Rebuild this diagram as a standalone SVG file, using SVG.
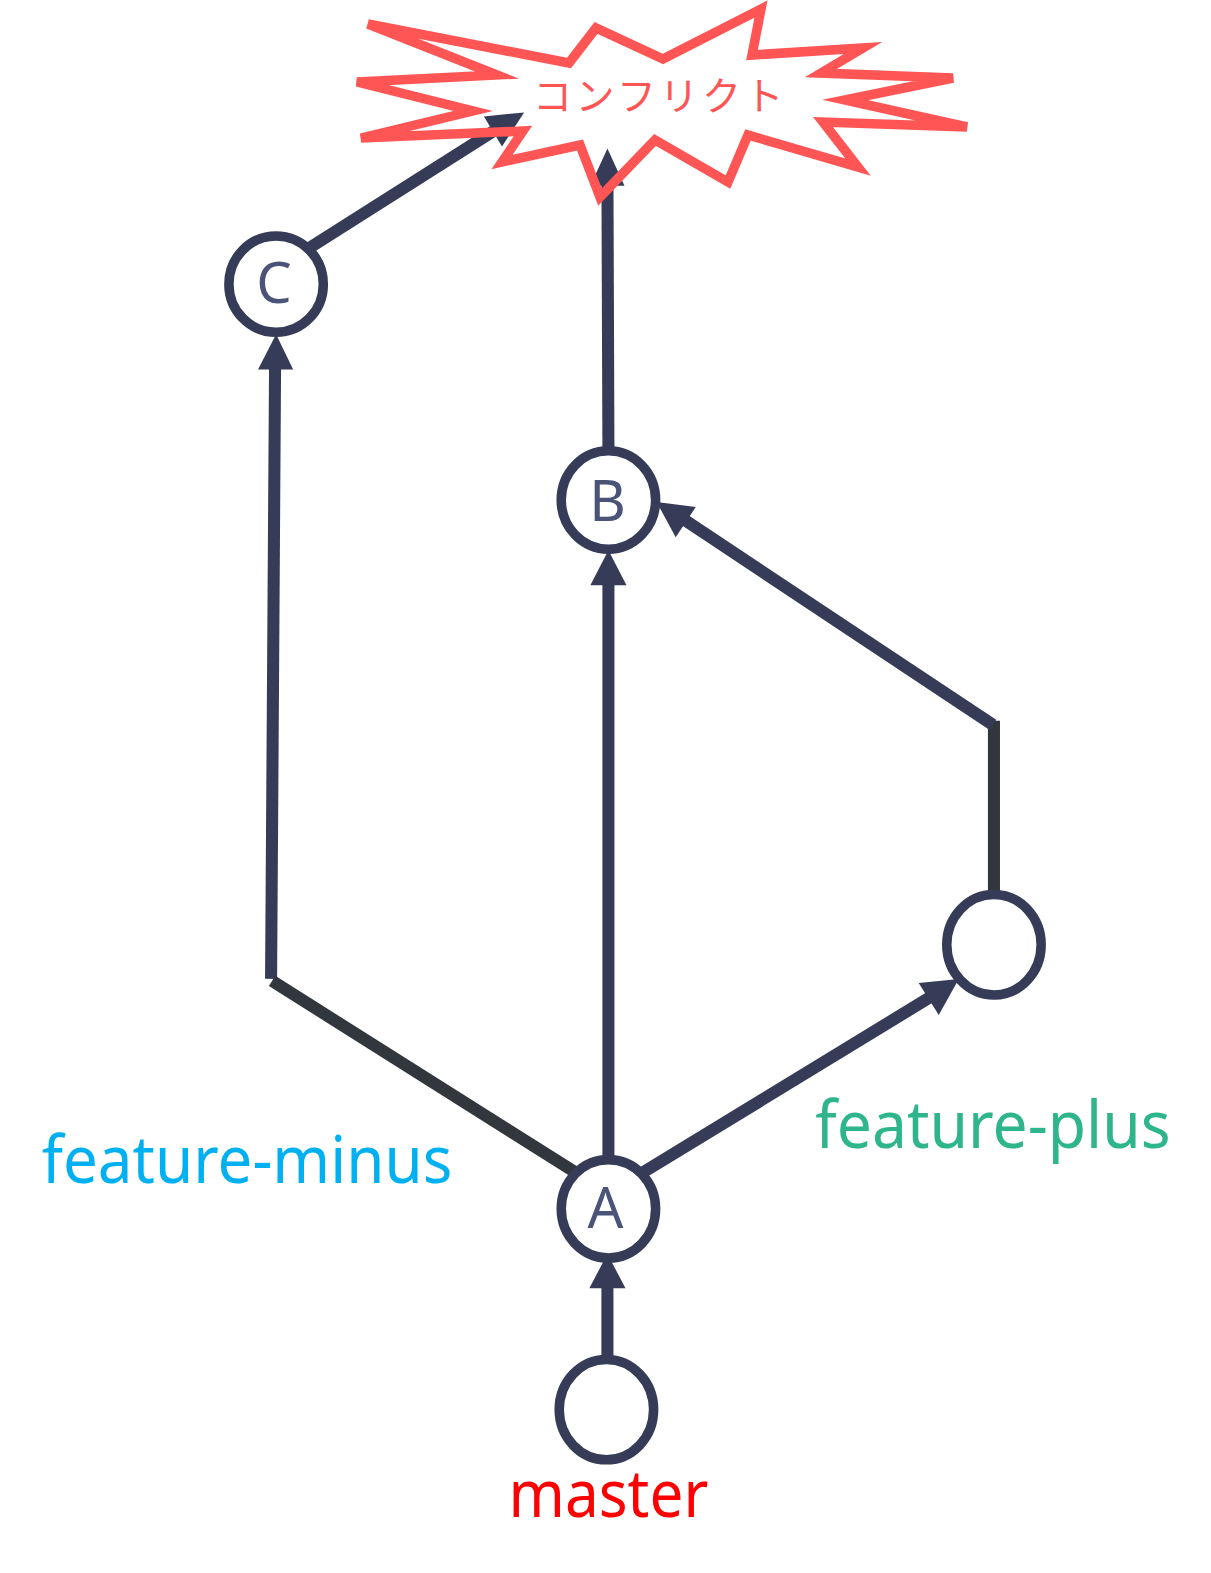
<svg xmlns="http://www.w3.org/2000/svg" width="1211" height="1573" viewBox="0 0 1211 1573">
<style>
.n{fill:#fff;stroke:#363b57;stroke-width:9.500}
.c{fill:none;stroke:#363b57;stroke-width:12}
.k{stroke:#32363d}
.a{fill:#363b57;stroke:none}
text{font-family:"Noto Sans","Open Sans","Noto Sans CJK JP",sans-serif;text-anchor:middle}
.l{font-size:56px;fill:#4a5478}
.t{font-size:65px}
</style>
<rect width="1211" height="1573" fill="#fff"/>
<g transform="scale(1.004)">
<g id="connectors">
<path class="c" d="M308 247L505 122"/>
<polygon class="a" points="522,112 482,116 500,146"/>
<path class="c" d="M606 446L605 175"/>
<polygon class="a" points="605,148 588,185 622,185"/>
<path class="c" d="M270 975L274 360"/>
<polygon class="a" points="275,333 257,368 292,368"/>
<path class="c k" d="M271 977L572 1167"/>
<path class="c" d="M606 1152V575"/>
<polygon class="a" points="606,548 588,583 624,583"/>
<path class="c" d="M640 1168L935 988"/>
<polygon class="a" points="955,975 915,979 935,1011"/>
<path class="c k" d="M990 889V718"/>
<path class="c" d="M989 722L676 514"/>
<polygon class="a" points="654,500 693,505 673,535"/>
<path class="c" d="M605 1354V1275"/>
<polygon class="a" points="605,1249 587,1283 623,1283"/>
</g>
</g>
<g id="star">
<polygon fill="none" stroke="#ff5555" stroke-width="9.500" stroke-linejoin="miter" stroke-miterlimit="5.4" points="368,24 569,63 596,28 663,59 761,9 752,55 863,48 821,73 953,78 845,100 967,127 823,122 858,167 748,135 728,182 655,140 600,197 580,145 502,162 523,131 361,138 473,111 357,82 497,75"/>
<text x="660" y="110" font-size="39" letter-spacing="3.5" fill="#ff5555" style="font-family:'Noto Sans CJK JP',sans-serif">コンフリクト</text>
</g>
<g transform="scale(1.004)">
<g id="node-c"><ellipse class="n" cx="275" cy="283" rx="47" ry="48"/><text class="l" x="273" y="302">C</text></g>
<g id="node-b"><ellipse class="n" cx="606" cy="498" rx="47" ry="49"/><text class="l" x="605" y="519">B</text></g>
<g id="node-a"><ellipse class="n" cx="606" cy="1204" rx="47" ry="49"/><text class="l" x="603" y="1223">A</text></g>
<g id="node-d"><ellipse class="n" cx="990" cy="941" rx="47" ry="50"/></g>
<g id="node-e"><ellipse class="n" cx="604" cy="1404" rx="47" ry="50"/></g>
<g id="label-minus"><text class="t" x="246" y="1178" fill="#00b0f0" textLength="409" lengthAdjust="spacingAndGlyphs">feature-minus</text></g>
<g id="label-plus"><text class="t" x="989" y="1143" fill="#2fb58c" textLength="354" lengthAdjust="spacingAndGlyphs">feature-plus</text></g>
<g id="label-master"><text class="t" x="606" y="1511" fill="#ff0000" textLength="199" lengthAdjust="spacingAndGlyphs">master</text></g>
</g>
</svg>
